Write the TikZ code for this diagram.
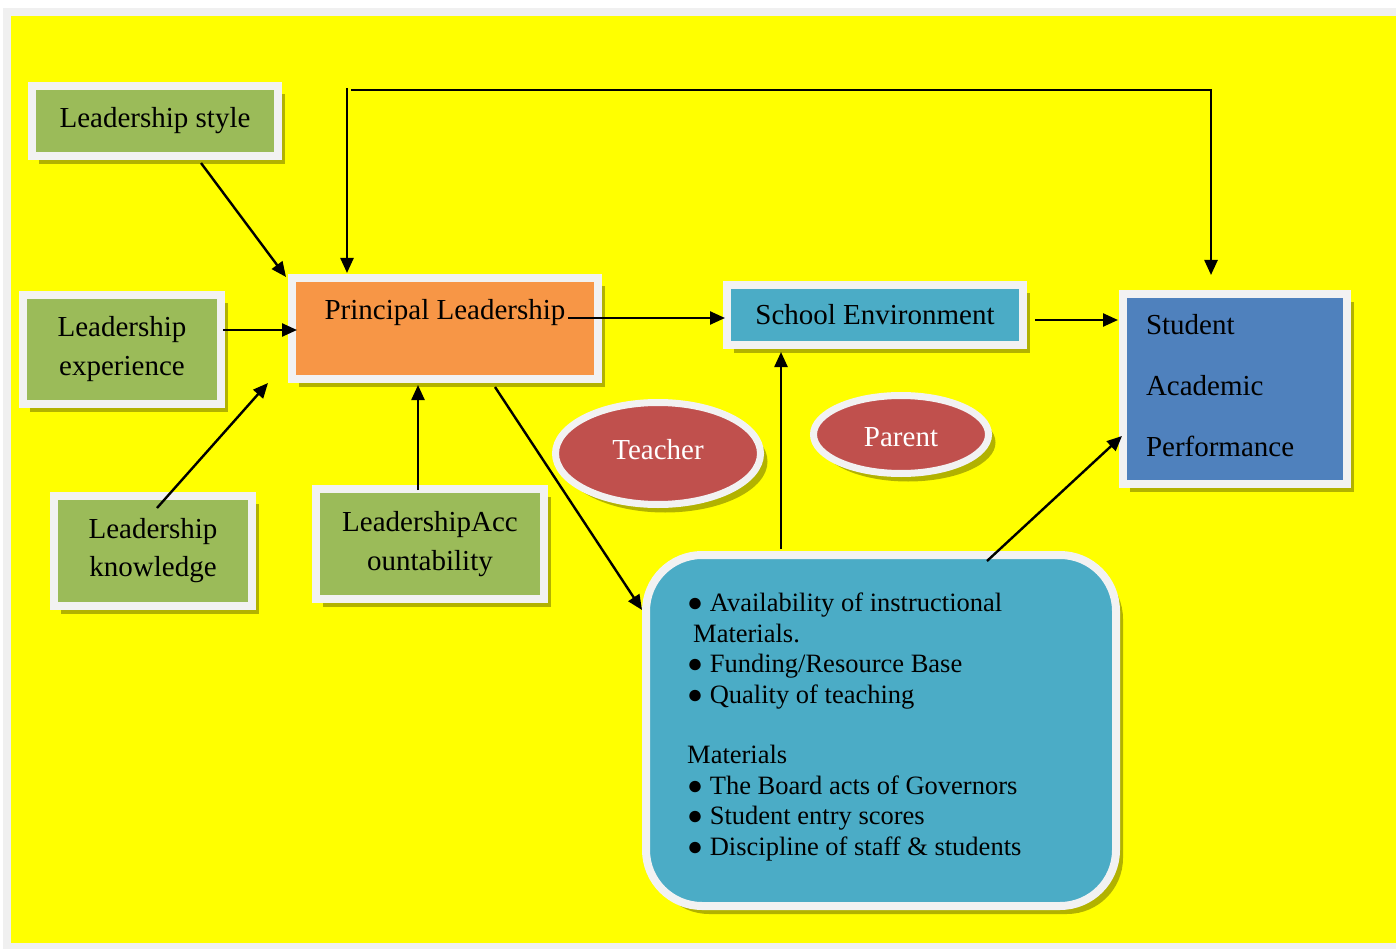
\documentclass[tikz,border=0pt]{standalone}
\usepackage{fontspec}
\usepackage{graphicx}
\setmainfont{Liberation Serif}
\usetikzlibrary{arrows.meta,shapes.geometric,shadows}
\definecolor{bgyellow}{RGB}{255,255,0}
\definecolor{framegray}{RGB}{240,240,240}
\definecolor{bordergray}{RGB}{242,242,242}
\definecolor{boxgreen}{RGB}{155,187,89}
\definecolor{boxorange}{RGB}{247,150,70}
\definecolor{boxteal}{RGB}{75,172,198}
\definecolor{boxblue}{RGB}{79,129,189}
\definecolor{boxred}{RGB}{192,80,77}
\tikzset{
  myshadow/.style={drop shadow={shadow xshift=7pt, shadow yshift=-8pt, fill=black, opacity=0.3}},
  box/.style={rectangle, draw=bordergray, line width=8pt, inner sep=0pt, outer sep=0pt,
    align=center, font=\fontsize{29}{39}\selectfont, myshadow},
  ell/.style={ellipse, draw=bordergray, line width=7pt, inner sep=0pt, outer sep=0pt,
    text=white, font=\fontsize{29}{34}\selectfont, myshadow},
  arr/.style={-{Triangle[length=15pt,width=13pt]}, line width=2.4pt, black}
}
\begin{document}
\begin{tikzpicture}[x=1pt,y=-1pt]
\useasboundingbox (0,0) rectangle (1396,949);
\fill[white] (0,0) rectangle (1396,949);
\fill[framegray] (3,8) rectangle (1396,949);
\fill[bgyellow] (11,16) rectangle (1396,943);

% nodes
\node[box, fill=boxgreen, minimum width=246pt, minimum height=70pt] (ls) at (155,121) {Leadership style};
\node[box, fill=boxgreen, minimum width=198pt, minimum height=109pt] (le) at (122,349.5) {Leadership\\experience};
\node[box, fill=boxgreen, minimum width=198pt, minimum height=110pt, font=\fontsize{29}{38}\selectfont] (lk) at (153,551) {Leadership\\knowledge};
\node[box, fill=boxorange, minimum width=306pt, minimum height=101pt, font=\fontsize{29}{38}\selectfont] (pl) at (445,328.5) {Principal Leadership\\\mbox{}};
\node[box, fill=boxgreen, minimum width=228pt, minimum height=110pt] (la) at (430,544) {LeadershipAcc\\ountability};
\node[box, fill=boxteal, minimum width=296pt, minimum height=60pt] (se) at (875,315) {School Environment};
\node[box, fill=boxblue, minimum width=224pt, minimum height=190pt, text width=178pt, align=left, font=\fontsize{29}{61}\selectfont] (sap) at (1235,389) {\raisebox{3pt}[\height][\depth]{Student}\\\raisebox{3pt}[\height][\depth]{Academic}\\\raisebox{3pt}[\height][\depth]{Performance}};
\node[ell, fill=boxred, minimum width=205pt, minimum height=102pt] (teacher) at (658,453.5) {\raisebox{4pt}[\height][\depth]{Teacher}};
\node[ell, fill=boxred, minimum width=175pt, minimum height=78pt] (parent) at (901,434.5) {\raisebox{-2.5pt}[\height][\depth]{Parent}};
\node[box, fill=boxteal, rounded corners=56pt, minimum width=470pt, minimum height=351pt] (big) at (881,730.5) {};
\node[anchor=north west, inner sep=0pt, align=left, font=\fontsize{26.5}{30.4}\selectfont] (bigtxt) at (687,593)
 {● Availability of instructional\\
  \hspace{6pt}Materials.\\
  ● Funding/Resource Base\\
  ● Quality of teaching\\[30.4pt]
  Materials\\
  ● The Board acts of Governors\\
  ● Student entry scores\\
  ● Discipline of staff \& students};

% connector end points
\coordinate (ls-o) at (201,163);   \coordinate (pl-i1) at (286,277);
\coordinate (le-o) at (223,330);   \coordinate (pl-i2) at (297,330);
\coordinate (lk-o) at (157,508);   \coordinate (pl-i3) at (268,383);
\coordinate (la-o) at (418,490);   \coordinate (pl-i4) at (418,385);
\coordinate (pl-o1) at (568,318);  \coordinate (se-i1) at (725,318);
\coordinate (se-o) at (1035,320);  \coordinate (sap-i1) at (1118,320);
\coordinate (pl-o2) at (495,387);  \coordinate (big-i) at (642,610);
\coordinate (big-o1) at (781,549); \coordinate (se-i2) at (781,352);
\coordinate (big-o2) at (987,561); \coordinate (sap-i2) at (1122,436);
\coordinate (top-l) at (347,88);   \coordinate (pl-i5) at (347,273);
\coordinate (top-s) at (351,90);   \coordinate (sap-i3) at (1211,275);

\draw[arr] (ls-o) -- (pl-i1);
\draw[arr] (le-o) -- (pl-i2);
\draw[arr] (lk-o) -- (pl-i3);
\draw[arr] (la-o) -- (pl-i4);
\draw[arr] (pl-o1) -- (se-i1);
\draw[arr] (se-o) -- (sap-i1);
\draw[arr] (pl-o2) -- (big-i);
\draw[arr] (big-o1) -- (se-i2);
\draw[arr] (big-o2) -- (sap-i2);
\draw[arr] (top-l) -- (pl-i5);
\draw[arr] (top-s) -| (sap-i3);
\end{tikzpicture}
\end{document}
